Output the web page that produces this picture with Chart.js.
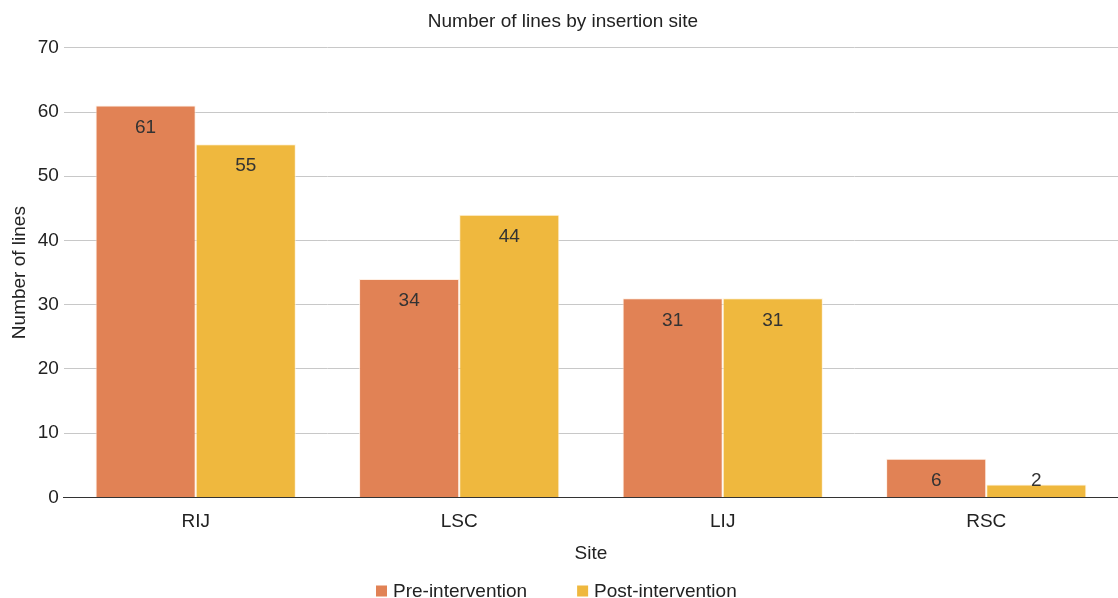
<!DOCTYPE html>
<html><head><meta charset="utf-8">
<script src="https://cdn.jsdelivr.net/npm/chart.js@4/dist/chart.umd.min.js"></script>
<style>html,body{margin:0;padding:0;background:#fff}#wrap{width:1118px;height:598px}</style>
</head><body><div id="wrap"><canvas id="c"></canvas></div>
<script>
const categories = ['RIJ', 'LSC', 'LIJ', 'RSC'];
const preIntervention = [61, 34, 31, 6];
const postIntervention = [55, 44, 31, 2];
const yTicks = [0, 10, 20, 30, 40, 50, 60, 70];

const FONT = "'Liberation Sans', Arial, Helvetica, sans-serif";
const FS = 19;

const labelPlugin = {
  id: 'barLabels',
  afterDatasetsDraw(chart) {
    const ctx = chart.ctx;
    const base = chart.scales.y.getPixelForValue(0);
    ctx.save();
    ctx.font = FS + 'px ' + FONT;
    ctx.fillStyle = '#333';
    ctx.textAlign = 'center';
    ctx.textBaseline = 'middle';
    chart.data.datasets.forEach((ds, i) => {
      chart.getDatasetMeta(i).data.forEach((bar, j) => {
        const y = Math.min(bar.y + 22, base - 17);
        ctx.fillText(String(ds.data[j]), bar.x, y);
      });
    });
    ctx.restore();
  }
};

const legendPlugin = {
  id: 'customLegend',
  afterDraw(chart) {
    const ctx = chart.ctx;
    ctx.save();
    ctx.font = FS + 'px ' + FONT;
    ctx.textBaseline = 'middle';
    const box = 11, gapText = 6, gapItem = 50;
    const items = chart.data.datasets.map(ds => ({ text: ds.label, color: ds.backgroundColor, w: ctx.measureText(ds.label).width }));
    let total = 0;
    items.forEach((it, i) => { total += box + gapText + it.w + (i ? gapItem : 0); });
    let x = Math.round(chart.width / 2 - total / 2) - 3;
    const y = 592;
    items.forEach(it => {
      ctx.fillStyle = it.color;
      ctx.fillRect(x, y - box / 2 - 1, box, box);
      ctx.fillStyle = '#222';
      ctx.textAlign = 'left';
      ctx.fillText(it.text, x + box + gapText, y);
      x += box + gapText + it.w + gapItem;
    });
    ctx.restore();
  }
};

new Chart(document.getElementById('c'), {
  type: 'bar',
  data: {
    labels: categories,
    datasets: [
      { label: 'Pre-intervention', data: preIntervention, backgroundColor: 'rgb(225,130,85)', borderColor: 'rgba(255,235,220,0.8)', borderWidth: 1 },
      { label: 'Post-intervention', data: postIntervention, backgroundColor: 'rgb(239,184,62)', borderColor: 'rgba(255,240,210,0.8)', borderWidth: 1 }
    ]
  },
  options: {
    responsive: true,
    maintainAspectRatio: false,
    animation: false,
    layout: { padding: { left: 8, right: 0, top: 0, bottom: 33 } },
    datasets: { bar: { categoryPercentage: 0.76, barPercentage: 1.0 } },
    plugins: {
      title: { display: true, text: 'Number of lines by insertion site', color: '#222', font: { family: FONT, size: FS, weight: 'normal' }, padding: { top: 10, bottom: 15 } },
      legend: { display: false },
      tooltip: { enabled: false }
    },
    scales: {
      x: {
        grid: { display: false },
        border: { color: '#333', width: 1 },
        ticks: { color: '#222', font: { family: FONT, size: FS }, padding: 5 },
        title: { display: true, text: 'Site', color: '#222', font: { family: FONT, size: FS }, padding: { top: 4, bottom: 0 } }
      },
      y: {
        min: 0, max: 70,
        afterBuildTicks(axis) { axis.ticks = yTicks.map(v => ({ value: v })); },
        grid: { color: '#c8c8c8', lineWidth: 1, drawTicks: false },
        border: { display: false },
        ticks: { color: '#222', font: { family: FONT, size: FS }, padding: 5 },
        title: { display: true, text: 'Number of lines', color: '#222', font: { family: FONT, size: FS }, padding: { top: 0, bottom: 2 } }
      }
    }
  },
  plugins: [labelPlugin, legendPlugin]
});
</script></body></html>
